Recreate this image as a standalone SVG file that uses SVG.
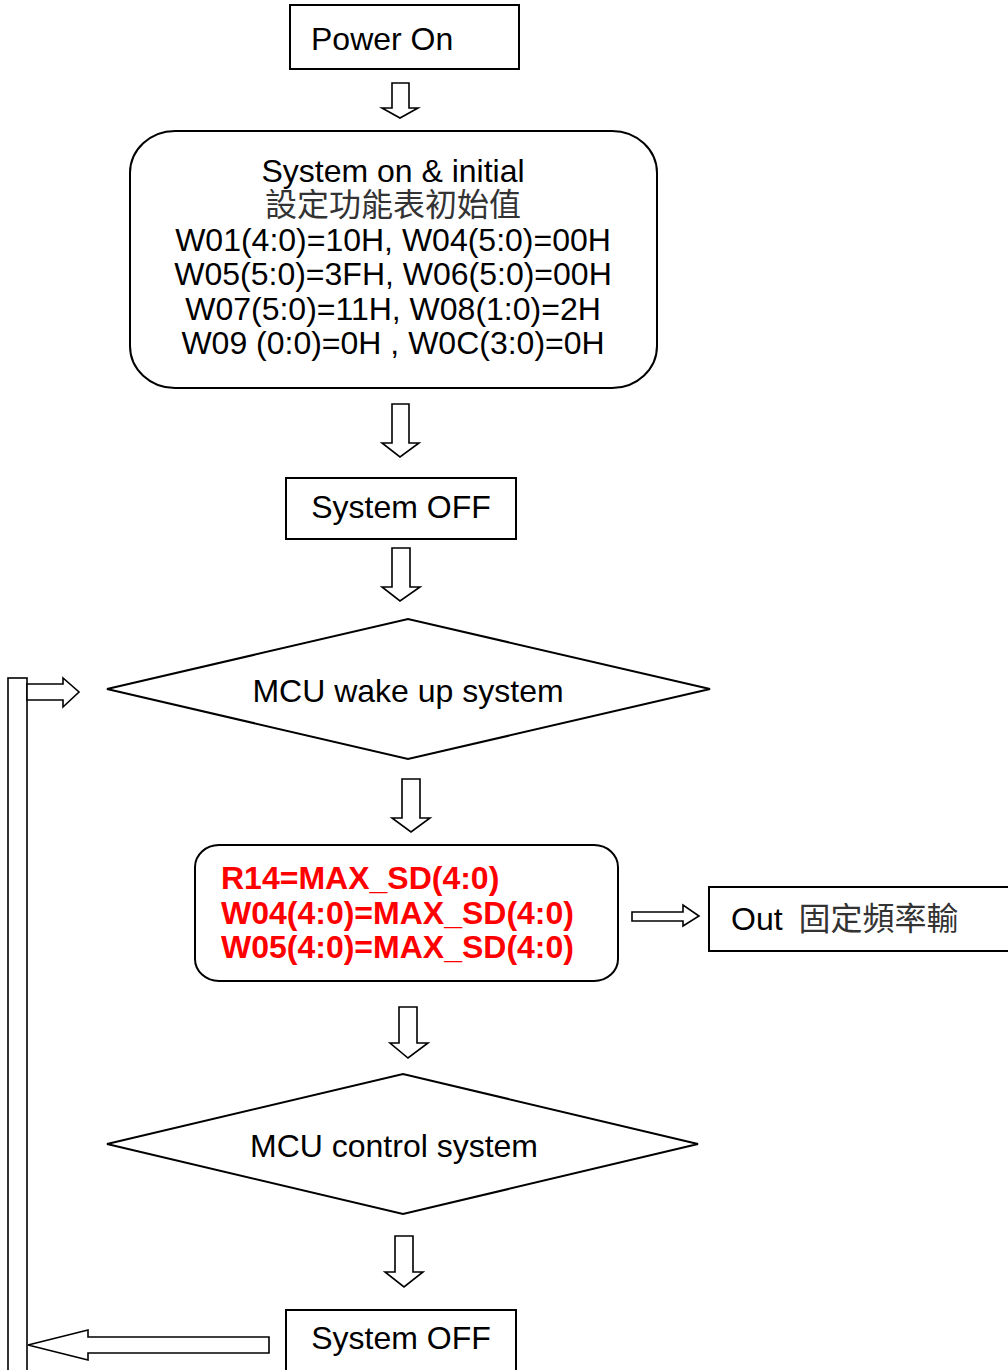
<svg xmlns="http://www.w3.org/2000/svg" width="1008" height="1370" viewBox="0 0 1008 1370">
<style>
.box{fill:#fff;stroke:#000;stroke-width:2}
.arr{fill:#fff;stroke:#000;stroke-width:1.6;stroke-linejoin:miter}
.t{font-family:"Liberation Sans",Arial,sans-serif;font-size:32px;fill:#000}
.c{text-anchor:middle}
.cjk{font-family:"Liberation Sans","Noto Sans CJK TC",sans-serif;font-size:32px;fill:#333}
.red{font-family:"Liberation Sans",Arial,sans-serif;font-size:32px;font-weight:bold;fill:#f00}
</style>
<rect width="1008" height="1370" fill="#fff"/>
<g id="power-on">
<rect class="box" x="290" y="5" width="229" height="64"/>
<text class="t" x="311" y="50">Power On</text>
</g>
<g id="init">
<rect class="box" x="130" y="131" width="527" height="257" rx="45" ry="42"/>
<text class="t c" x="393" y="182">System on &amp; initial</text>
<text class="cjk c" x="393" y="216">設定功能表初始值</text>
<text class="t c" x="393" y="251">W01(4:0)=10H, W04(5:0)=00H</text>
<text class="t c" x="393" y="285">W05(5:0)=3FH, W06(5:0)=00H</text>
<text class="t c" x="393" y="320">W07(5:0)=11H, W08(1:0)=2H</text>
<text class="t c" x="393" y="354">W09 (0:0)=0H , W0C(3:0)=0H</text>
</g>
<g id="system-off-1">
<rect class="box" x="286" y="478" width="230" height="61"/>
<text class="t c" x="401" y="518">System OFF</text>
</g>
<g id="wake">
<polygon class="box" points="107,689 408,619 710,689 408,759"/>
<text class="t c" x="408" y="702">MCU wake up system</text>
</g>
<g id="set-max">
<rect class="box" x="195" y="845" width="423" height="136" rx="24" ry="22"/>
<text class="red" x="221" y="889">R14=MAX_SD(4:0)</text>
<text class="red" x="221" y="924">W04(4:0)=MAX_SD(4:0)</text>
<text class="red" x="221" y="958">W05(4:0)=MAX_SD(4:0)</text>
</g>
<g id="out">
<rect class="box" x="709" y="887" width="300" height="64"/>
<text class="t" x="731" y="930">Out<tspan class="cjk" dx="16">固定頻率輸</tspan></text>
</g>
<g id="control">
<polygon class="box" points="107,1144 403,1074 698,1144 403,1214"/>
<text class="t c" x="394" y="1157">MCU control system</text>
</g>
<g id="system-off-2">
<rect class="box" x="286" y="1310" width="230" height="70"/>
<text class="t c" x="401" y="1349">System OFF</text>
</g>
<g id="connectors">
<polygon class="arr" points="392,83 409,83 409,108 418,108 400,118 382,108 392,108"/>
<polygon class="arr" points="392,404 409,404 409,443 419,443 400,457 382,443 392,443"/>
<polygon class="arr" points="392,548 410,548 410,587 420,587 400,601 382,587 392,587"/>
<polygon class="arr" points="402,779 420,779 420,818 430,818 411,832 392,818 402,818"/>
<polygon class="arr" points="399,1007 417,1007 417,1043 428,1043 408,1058 390,1043 399,1043"/>
<polygon class="arr" points="395,1236 413,1236 413,1272 423,1272 404,1287 385,1272 395,1272"/>
<polygon class="arr" points="632,912 683,912 683,905 699,916 683,926 683,921 632,921"/>
<rect class="arr" x="8" y="678" width="19" height="700"/>
<polygon class="arr" points="27,684 63,684 63,678 79,692 63,707 63,700 27,700"/>
<polygon class="arr" points="269,1337 88,1337 88,1330 28,1345 88,1360 88,1353 269,1353"/>
</g>
</svg>
